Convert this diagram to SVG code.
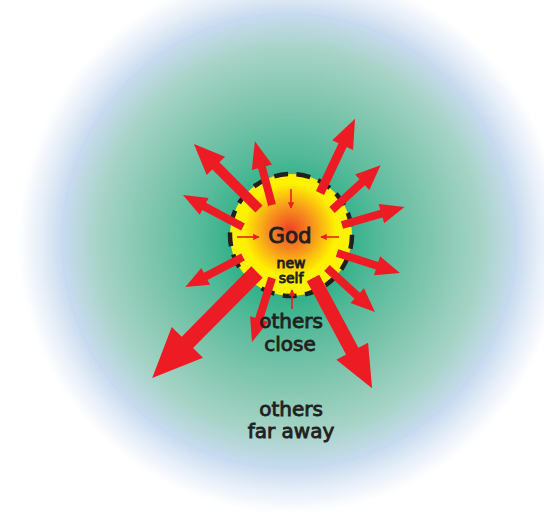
<svg xmlns="http://www.w3.org/2000/svg" width="544" height="521" viewBox="0 0 544 521">
<defs>
<radialGradient id="bg" gradientUnits="userSpaceOnUse" cx="290" cy="241" r="272">
<stop offset="0" stop-color="#12aa7c"/>
<stop offset="0.2" stop-color="#2fb088"/>
<stop offset="0.33" stop-color="#55ba99"/>
<stop offset="0.52" stop-color="#80c6af"/>
<stop offset="0.7" stop-color="#a5d3c5"/>
<stop offset="0.835" stop-color="#c8dbef"/>
<stop offset="0.92" stop-color="#e7eff9"/>
<stop offset="1" stop-color="#ffffff"/>
</radialGradient>
<radialGradient id="sun" gradientUnits="userSpaceOnUse" cx="290" cy="230" r="58">
<stop offset="0" stop-color="#ef4123"/>
<stop offset="0.4" stop-color="#f7941d"/>
<stop offset="0.8" stop-color="#fff200"/>
<stop offset="1" stop-color="#fff200"/>
</radialGradient>
<marker id="ih" viewBox="0 0 10 10" refX="9" refY="5" markerWidth="4" markerHeight="4" orient="auto" markerUnits="strokeWidth">
<path d="M0,0 L10,5 L0,10 z" fill="#ed1c24"/>
</marker>
<style>
.arr{fill:#ed1c24}
.in{stroke:#ed1c24;stroke-width:1.6;fill:none;marker-end:url(#ih)}
.t{font-family:"DejaVu Sans",Verdana,sans-serif;fill:#231f20;stroke:#231f20;stroke-width:0.9;text-anchor:middle}
</style>
</defs>
<rect width="544" height="521" fill="#ffffff"/>
<circle id="field" cx="290" cy="241" r="272" fill="url(#bg)"/>
<circle cx="289" cy="241" r="227" fill="none" stroke="#c6d8f2" stroke-width="2" opacity="0.5"/>
<g id="self">
<circle cx="291" cy="235" r="61" fill="url(#sun)" stroke="#231f20" stroke-width="4.5" stroke-dasharray="14 8.5"/>
</g>
<g id="connectors">
<g class="arr">
<polygon transform="translate(259,209) rotate(-135)" points="0,-5 61,-5 61,-13 92,0 61,13 61,5 0,5"/>
<polygon transform="translate(272,205) rotate(-105)" points="0,-4 39,-4 39,-10.5 66,0 39,10.5 39,4 0,4"/>
<polygon transform="translate(320,193) rotate(-64.7)" points="0,-4.5 53,-4.5 53,-11.5 82,0 53,11.5 53,4.5 0,4.5"/>
<polygon transform="translate(332,210) rotate(-42.6)" points="0,-4 41,-4 41,-10.5 66,0 41,10.5 41,4 0,4"/>
<polygon transform="translate(342,225) rotate(-16)" points="0,-4 41,-4 41,-10 65,0 41,10 41,4 0,4"/>
<polygon transform="translate(337,253) rotate(17.6)" points="0,-4 42,-4 42,-10 66,0 42,10 42,4 0,4"/>
<polygon transform="translate(327,268) rotate(42.5)" points="0,-4 41,-4 41,-10 65,0 41,10 41,4 0,4"/>
<polygon transform="translate(313,278) rotate(61.8)" points="0,-7 83,-7 83,-18 125,0 83,18 83,7 0,7"/>
<polygon transform="translate(272,278) rotate(107.4)" points="0,-4 43,-4 43,-9.5 67,0 43,9.5 43,4 0,4"/>
<polygon transform="translate(257,272) rotate(134.7)" points="0,-8 99,-8 99,-22 149,0 99,22 99,8 0,8"/>
<polygon transform="translate(243,257) rotate(152.6)" points="0,-4 42,-4 42,-9.5 65,0 42,9.5 42,4 0,4"/>
<polygon transform="translate(243,227) rotate(-152)" points="0,-4 44,-4 44,-9.5 68,0 44,9.5 44,4 0,4"/>
</g>
<line class="in" x1="291" y1="189" x2="291" y2="208"/>
<line class="in" x1="237" y1="237" x2="259" y2="237"/>
<line class="in" x1="339" y1="237" x2="321" y2="237"/>
<line class="in" x1="292" y1="309" x2="292" y2="290"/>
</g>
<g id="labels">
<text class="t" x="290" y="243" font-size="21.5">God</text>
<text class="t" x="291" y="268" font-size="14" stroke-width="0.5">new</text>
<text class="t" x="291" y="283" font-size="14" stroke-width="0.5">self</text>
<text class="t" x="291" y="328" font-size="20">others</text>
<text class="t" x="290" y="351" font-size="20">close</text>
<text class="t" x="291" y="416" font-size="20">others</text>
<text class="t" x="291" y="438" font-size="20">far away</text>
</g>
</svg>
